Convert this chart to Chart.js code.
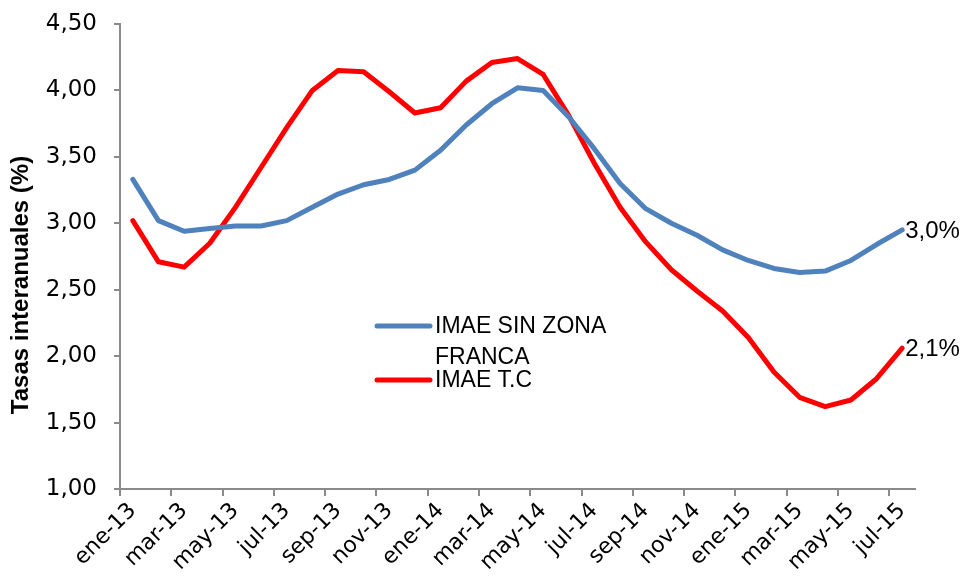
<!DOCTYPE html>
<html>
<head>
<meta charset="utf-8">
<script src="https://cdn.jsdelivr.net/npm/chart.js@4.4.1/dist/chart.umd.min.js"></script>
<style>
  html, body { margin: 0; padding: 0; background: #ffffff; }
  #wrap { width: 963px; height: 580px; position: relative; }
</style>
</head>
<body>
<div id="wrap"><canvas id="c" width="963" height="580"></canvas></div>
<script>
// ---- data ----
const months = [
  'ene-13','feb-13','mar-13','abr-13','may-13','jun-13','jul-13','ago-13','sep-13','oct-13','nov-13','dic-13',
  'ene-14','feb-14','mar-14','abr-14','may-14','jun-14','jul-14','ago-14','sep-14','oct-14','nov-14','dic-14',
  'ene-15','feb-15','mar-15','abr-15','may-15','jun-15','jul-15'
];
const imaeSinZonaFranca = [
  3.33, 3.02, 2.94, 2.96, 2.98, 2.98, 3.02, 3.12, 3.22, 3.29, 3.33, 3.40,
  3.55, 3.74, 3.90, 4.02, 4.00, 3.80, 3.56, 3.30, 3.11, 3.00, 2.91, 2.80,
  2.72, 2.66, 2.63, 2.64, 2.72, 2.84, 2.95
];
const imaeTC = [
  3.02, 2.71, 2.67, 2.85, 3.12, 3.42, 3.72, 4.00, 4.15, 4.14, 3.99, 3.83,
  3.87, 4.07, 4.21, 4.24, 4.12, 3.81, 3.45, 3.12, 2.86, 2.65, 2.49, 2.34,
  2.14, 1.88, 1.69, 1.62, 1.67, 1.83, 2.06
];
const seriesNames = ['IMAE SIN ZONA FRANCA', 'IMAE T.C'];
const endLabels = ['3,0%', '2,1%'];
const yAxisTitle = 'Tasas interanuales (%)';
const yMin = 1.0, yMax = 4.5, yStep = 0.5;

// ---- styling ----
const BLUE = '#4F81BD';
const RED = '#FF0000';
const AXIS = '#8a8a8a';
const TICK_FONT = '"DejaVu Sans", Verdana, sans-serif';
const TEXT_FONT = '"Liberation Sans", Arial, sans-serif';

// overlay plugin: wrapped legend, end-of-line value labels, axis title
const overlay = {
  id: 'overlay',
  afterDatasetsDraw(chart, args, opts) {
    const ctx = chart.ctx;
    chart.data.datasets.forEach((ds, i) => {
      const meta = chart.getDatasetMeta(i);
      const pt = meta.data[meta.data.length - 1];
      ctx.save();
      ctx.font = opts.endFont;
      ctx.fillStyle = '#000';
      ctx.textAlign = 'left';
      ctx.textBaseline = 'middle';
      ctx.fillText(opts.endLabels[i], pt.x + 3, pt.y + 1);
      ctx.restore();
    });
    ctx.save();
    ctx.font = opts.legendFont;
    ctx.textAlign = 'left';
    ctx.textBaseline = 'middle';
    chart.data.datasets.forEach((ds, i) => {
      const y = opts.legendY + i * opts.entryGap;
      ctx.strokeStyle = ds.borderColor;
      ctx.lineWidth = 5;
      ctx.lineCap = 'round';
      ctx.beginPath();
      ctx.moveTo(opts.legendX, y);
      ctx.lineTo(opts.legendX + opts.sampleLen, y);
      ctx.stroke();
      const words = ds.label.split(' ');
      const lines = [];
      let cur = '';
      words.forEach(w => {
        const t = cur ? cur + ' ' + w : w;
        if (ctx.measureText(t).width > opts.wrapWidth && cur) { lines.push(cur); cur = w; }
        else cur = t;
      });
      if (cur) lines.push(cur);
      ctx.fillStyle = '#000';
      lines.forEach((ln, k) => ctx.fillText(ln, opts.legendX + opts.sampleLen + 5, y + 1 + k * opts.lineGap));
    });
    ctx.restore();
    ctx.save();
    ctx.font = opts.titleFont;
    ctx.fillStyle = '#000';
    ctx.textAlign = 'center';
    ctx.textBaseline = 'middle';
    ctx.translate(opts.titleX, opts.titleY);
    ctx.rotate(-Math.PI / 2);
    ctx.fillText(opts.title, 0, 0);
    ctx.restore();
  }
};

new Chart(document.getElementById('c'), {
  type: 'line',
  data: {
    labels: months,
    datasets: [
      { label: seriesNames[0], data: imaeSinZonaFranca, borderColor: BLUE, backgroundColor: BLUE,
        borderWidth: 5, pointRadius: 0, tension: 0, borderJoinStyle: 'round', borderCapStyle: 'round' },
      { label: seriesNames[1], data: imaeTC, borderColor: RED, backgroundColor: RED,
        borderWidth: 5, pointRadius: 0, tension: 0, borderJoinStyle: 'round', borderCapStyle: 'round' }
    ]
  },
  options: {
    responsive: false,
    devicePixelRatio: 1,
    animation: false,
    layout: { padding: { top: 24, right: 48, left: 0, bottom: 0 } },
    plugins: {
      legend: { display: false },
      tooltip: { enabled: false },
      overlay: {
        endLabels: endLabels,
        endFont: '24px ' + TEXT_FONT,
        legendFont: '23px ' + TEXT_FONT,
        legendX: 377, legendY: 326, sampleLen: 53, entryGap: 54, lineGap: 31, wrapWidth: 185,
        title: yAxisTitle, titleFont: 'bold 24px ' + TEXT_FONT, titleX: 21, titleY: 285
      }
    },
    scales: {
      x: {
        type: 'category',
        offset: true,
        afterFit: (s) => { s.height = 91; s.paddingLeft = 0; s.paddingRight = 0; },
        border: { display: true, color: AXIS, width: 2 },
        grid: {
          display: true, offset: true, drawOnChartArea: false, drawTicks: true, tickLength: 7,
          lineWidth: 2,
          color: (c) => (c.index % 2 === 0 ? AXIS : 'rgba(0,0,0,0)')
        },
        ticks: {
          autoSkip: false, maxRotation: 45, minRotation: 45, padding: 2,
          color: '#000', font: { family: TICK_FONT, size: 22 },
          callback: function (v, i) { return i % 2 === 0 ? this.getLabelForValue(v) : ''; }
        }
      },
      y: {
        min: yMin, max: yMax,
        afterFit: (s) => { s.width = 120; s.paddingTop = 0; s.paddingBottom = 0; },
        border: { display: true, color: AXIS, width: 2 },
        grid: { display: true, drawOnChartArea: false, drawTicks: true, tickLength: 6, lineWidth: 2, color: AXIS },
        ticks: {
          stepSize: yStep, padding: 17, color: '#000', font: { family: TICK_FONT, size: 23 },
          callback: (v) => Number(v).toFixed(2).replace('.', ',')
        }
      }
    }
  },
  plugins: [overlay]
});
</script>
</body>
</html>
